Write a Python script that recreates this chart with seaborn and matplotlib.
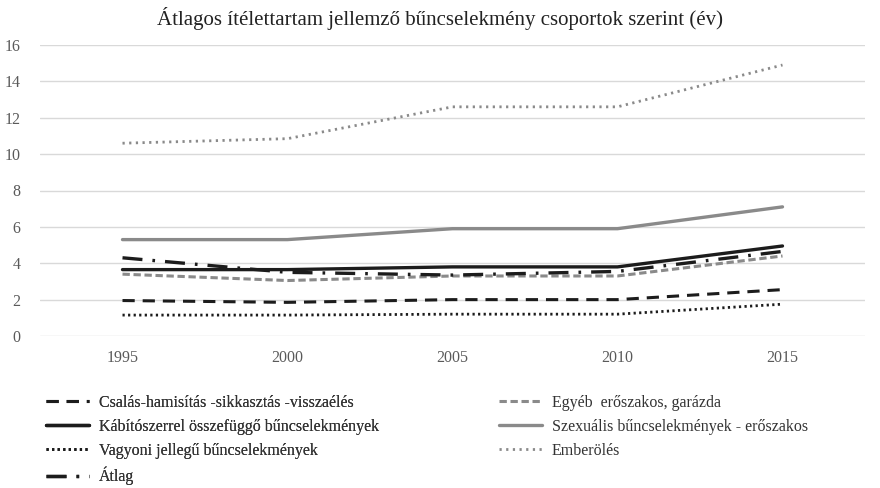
import matplotlib
matplotlib.use("Agg")
import matplotlib.pyplot as plt
import seaborn as sns
import pandas as pd

# adatok (leolvasva az ábráról)
years = ["1995", "2000", "2005", "2010", "2015"]
csalas = [1.95, 1.85, 2.0, 2.0, 2.55]
egyeb = [3.4, 3.05, 3.3, 3.3, 4.4]
kabitoszer = [3.65, 3.65, 3.8, 3.8, 4.95]
szexualis = [5.3, 5.3, 5.9, 5.9, 7.1]
vagyoni = [1.15, 1.15, 1.2, 1.2, 1.75]
emberoles = [10.6, 10.85, 12.6, 12.6, 14.9]
atlag = [4.3, 3.5, 3.35, 3.55, 4.65]

BLACK = "#1c1c1c"
GRAY = "#8a8a8a"

series = [
    ("Csalás-hamisítás -sikkasztás -visszaélés", csalas, BLACK, (0, (4, 2.6)), 2.2),
    ("Egyéb  erőszakos, garázda", egyeb, GRAY, (0, (2.4, 1.2)), 2.2),
    ("Kábítószerrel összefüggő bűncselekmények", kabitoszer, BLACK, "-", 2.4),
    ("Szexuális bűncselekmények - erőszakos", szexualis, GRAY, "-", 2.4),
    ("Vagyoni jellegű bűncselekmények", vagyoni, BLACK, (0, (0.8, 1.2)), 2.0),
    ("Emberölés", emberoles, GRAY, (0, (0.8, 1.6)), 2.0),
    ("Átlag", atlag, BLACK, (0, (6, 3, 0.8, 3)), 2.4),
]


def set_config():
    sns.set_style("white")
    plt.rcParams["font.family"] = ["Liberation Serif", "DejaVu Serif"]


def draw():
    fig = plt.figure(figsize=(8.8, 4.88), dpi=100)
    ax = fig.add_axes([40 / 880, 1 - 336 / 488, 825 / 880, 291 / 488])

    handles = {}
    for label, vals, color, ls, lw in series:
        df = pd.DataFrame({"year": years, "value": vals})
        sns.lineplot(data=df, x="year", y="value", ax=ax, color=color,
                     linewidth=lw, label=label, legend=False)
        line = ax.lines[-1]
        line.set_linestyle(ls)
        line.set_dash_capstyle("butt")
        handles[label] = line

    ax.set_xlim(-0.5, 4.5)
    ax.set_ylim(0, 16)
    ax.set_yticks(range(0, 17, 2))
    ax.grid(axis="y", color="#d9d9d9", linewidth=1)
    ax.set_axisbelow(True)
    for s in ax.spines.values():
        s.set_visible(False)
    ax.tick_params(axis="both", length=0, labelsize=11.5, colors="#5a5a5a")
    ax.tick_params(axis="x", pad=10)
    ax.tick_params(axis="y", pad=14)
    ax.set_xlabel("")
    ax.set_ylabel("")

    fig.text(0.5, 1 - 18 / 488, "Átlagos ítélettartam jellemző bűncselekmény csoportok szerint (év)",
             ha="center", va="center", fontsize=15, color="#222222")

    labels = [s[0] for s in series]
    col1 = [labels[i] for i in (0, 2, 4, 6)]
    col2 = [labels[i] for i in (1, 3, 5)]
    common = dict(frameon=False, fontsize=11.5, handlelength=2.7, handletextpad=0.6,
                  labelspacing=0.5, borderaxespad=0, borderpad=0,
                  labelcolor="#333333")
    leg1 = fig.legend([handles[l] for l in col1], col1, loc="upper left",
                      bbox_to_anchor=(46 / 880, 1 - 395 / 488), **common)
    fig.legend([handles[l] for l in col2], col2, loc="upper left",
               bbox_to_anchor=(499 / 880, 1 - 395 / 488), **common)
    fig.add_artist(leg1)

    fig.savefig("out.png", dpi=100)


def main():
    set_config()
    draw()


if __name__ == "__main__":
    main()
